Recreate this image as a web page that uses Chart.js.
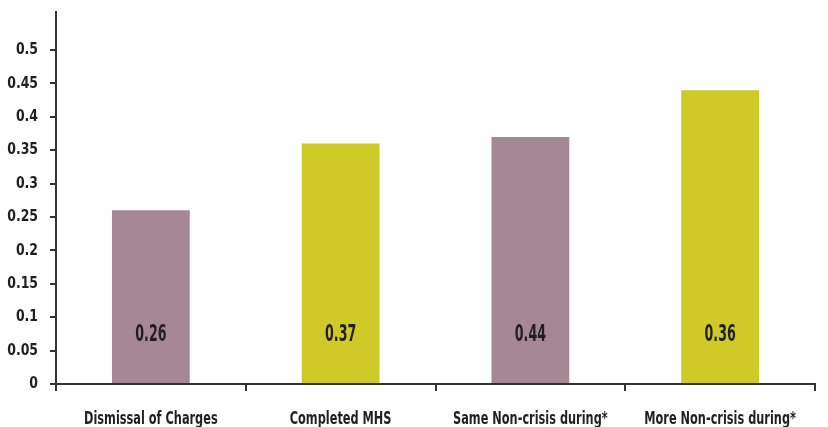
<!DOCTYPE html>
<html>
<head>
<meta charset="utf-8">
<script src="https://cdn.jsdelivr.net/npm/chart.js@4"></script>
<style>
  html, body { margin: 0; padding: 0; background: #fff; }
  #wrap { width: 828px; height: 427px; }
</style>
</head>
<body>
<div id="wrap"><canvas id="chart" width="828" height="427"></canvas></div>
<script>
// data
const categories = ["Dismissal of Charges", "Completed MHS", "Same Non-crisis during*", "More Non-crisis during*"];
const barValues = [0.26, 0.36, 0.37, 0.44];
// the printed labels do not match the bar heights in the original, kept as is
const barLabels = ["0.26", "0.37", "0.44", "0.36"];
const barColors = ["#a68895", "#d0ca28", "#a68895", "#d0ca28"];
const yTicks = [0, 0.05, 0.1, 0.15, 0.2, 0.25, 0.3, 0.35, 0.4, 0.45, 0.5];
const yTickLabels = ["0", "0.05", "0.1", "0.15", "0.2", "0.25", "0.3", "0.35", "0.4", "0.45", "0.5"];

const FONT = "'DejaVu Sans', sans-serif";
const INK = "#231f20";

// the original uses a tall condensed face; none is installed, so squeeze DejaVu
function squeezed(ctx, text, x, y, align, size, sx) {
  ctx.save();
  ctx.translate(x, y);
  ctx.scale(sx, 1);
  ctx.font = "bold " + size + "px " + FONT;
  ctx.fillStyle = INK;
  ctx.textAlign = align;
  ctx.textBaseline = "middle";
  ctx.fillText(text, 0, 0);
  ctx.restore();
}

const textPlugin = {
  id: "condensedText",
  afterDraw(chart) {
    const ctx = chart.ctx;
    const xs = chart.scales.x;
    const ys = chart.scales.y;
    // y tick labels
    ys.ticks.forEach((t, i) => {
      squeezed(ctx, yTickLabels[i], xs.left - 18, ys.getPixelForValue(t.value), "right", 16, 0.78);
    });
    // category labels
    categories.forEach((c, i) => {
      squeezed(ctx, c, xs.getPixelForTick(i), ys.bottom + 35, "center", 18, 0.63);
    });
    // value labels near the bottom of each bar
    chart.getDatasetMeta(0).data.forEach((bar, i) => {
      squeezed(ctx, barLabels[i], bar.x, ys.getPixelForValue(0.073), "center", 23, 0.55);
    });
  }
};

new Chart(document.getElementById("chart"), {
  type: "bar",
  data: {
    labels: categories,
    datasets: [{
      data: barValues,
      backgroundColor: barColors,
      borderWidth: 0,
      barPercentage: 0.41,
      categoryPercentage: 1
    }]
  },
  options: {
    responsive: false,
    animation: false,
    layout: { padding: { top: 12, right: 13, left: 0, bottom: 0 } },
    plugins: { legend: { display: false }, tooltip: { enabled: false } },
    scales: {
      x: {
        grid: { display: true, drawOnChartArea: false, drawTicks: true, tickLength: 7, color: "#333", lineWidth: 2, offset: true },
        border: { display: true, color: "#333", width: 2 },
        ticks: { display: false },
        afterFit(scale) { scale.height = 43; }
      },
      y: {
        min: 0,
        max: 0.557,
        grid: { display: true, drawOnChartArea: false, drawTicks: true, tickLength: 6, color: "#333", lineWidth: 2 },
        border: { display: true, color: "#333", width: 2 },
        afterBuildTicks(scale) { scale.ticks = yTicks.map(v => ({ value: v })); },
        ticks: { display: false },
        afterFit(scale) { scale.width = 56; }
      }
    }
  },
  plugins: [textPlugin]
});
</script>
</body>
</html>
